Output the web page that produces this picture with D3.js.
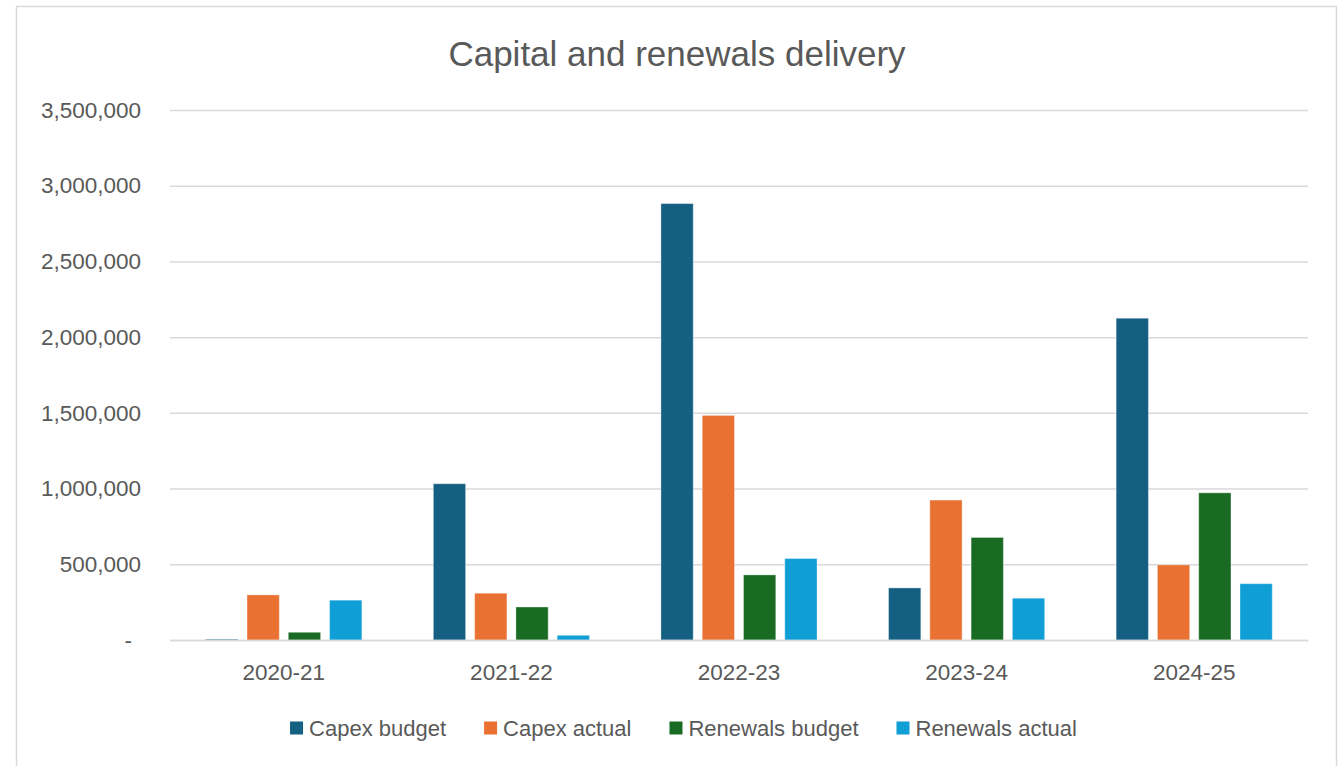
<!DOCTYPE html>
<html>
<head>
<meta charset="utf-8">
<script src="https://cdn.jsdelivr.net/npm/d3@7/dist/d3.min.js"></script>
<style>
  html, body { margin: 0; padding: 0; background: #ffffff; }
  svg { display: block; }
  text { font-family: "Liberation Sans", Arial, sans-serif; fill: #595959; }
</style>
</head>
<body>
<svg id="chart" width="1338" height="766"></svg>
<script>
// Financial years on the category axis
const years = ["2020-21", "2021-22", "2022-23", "2023-24", "2024-25"];

// Series values (dollars)
const capexBudget    = [5000, 1032000, 2882000, 344000, 2125000];
const capexActual    = [298000, 309000, 1483000, 924000, 496000];
const renewalsBudget = [51000, 218000, 430000, 677000, 972000];
const renewalsActual = [263000, 31000, 538000, 276000, 372000];

const seriesNames  = ["Capex budget", "Capex actual", "Renewals budget", "Renewals actual"];
const seriesValues = [capexBudget, capexActual, renewalsBudget, renewalsActual];
const seriesColors = ["#156082", "#E97132", "#196B24", "#0F9ED5"];

// Value axis ticks
const yTicks = [0, 500000, 1000000, 1500000, 2000000, 2500000, 3000000, 3500000];

const svg = d3.select("#chart");
const W = 1338, H = 766;
const plot = { left: 170, right: 1308, top: 110, bottom: 640 };

// chart area frame
svg.append("rect")
  .attr("x", 16.5).attr("y", 6.5)
  .attr("width", 1320).attr("height", 780)
  .attr("fill", "#ffffff")
  .attr("stroke", "#d9d9d9").attr("stroke-width", 1.5);

// title
svg.append("text")
  .attr("x", 677).attr("y", 66)
  .attr("text-anchor", "middle")
  .style("font-size", "35px")
  .text("Capital and renewals delivery");

const y = d3.scaleLinear().domain([0, 3500000]).range([plot.bottom, plot.top]);

const x0 = d3.scaleBand().domain(years).range([plot.left, plot.right]).paddingInner(0).paddingOuter(0);
const groupWidth = x0.bandwidth() * 0.686;
const x1 = d3.scaleBand().domain(seriesNames).range([0, groupWidth]).paddingInner(0.218).paddingOuter(0);
const groupOffset = (x0.bandwidth() - groupWidth) / 2;

// gridlines
const fmt = d3.format(",");
const yAxis = d3.axisLeft(y)
  .tickValues(yTicks)
  .tickSize(-(plot.right - plot.left))
  .tickPadding(29)
  .tickFormat(d => d === 0 ? "-" : fmt(d));

const gy = svg.append("g")
  .attr("transform", `translate(${plot.left},0)`)
  .call(yAxis);
gy.select(".domain").remove();
gy.selectAll(".tick line").attr("stroke", "#d9d9d9").attr("stroke-width", 1.5);
gy.selectAll(".tick text")
  .attr("fill", "#595959")
  .style("font-size", "22.5px")
  .style("font-family", "'Liberation Sans', Arial, sans-serif")
  .attr("dx", d => d === 0 ? -9 : 0);

// bars
const groups = svg.append("g").selectAll("g")
  .data(years)
  .join("g")
  .attr("transform", d => `translate(${x0(d) + groupOffset},0)`);

groups.selectAll("rect")
  .data((yr, i) => seriesNames.map((s, k) => ({ s, v: seriesValues[k][i], c: seriesColors[k] })))
  .join("rect")
  .attr("x", d => x1(d.s))
  .attr("width", x1.bandwidth())
  .attr("y", d => y(d.v))
  .attr("height", d => y(0) - y(d.v))
  .attr("fill", d => d.c)
  .attr("stroke", "#ffffff")
  .attr("stroke-opacity", 0.35)
  .attr("stroke-width", 1);

// category axis
const xAxis = d3.axisBottom(x0).tickSize(0).tickPadding(24);
const gx = svg.append("g")
  .attr("transform", `translate(0,${plot.bottom})`)
  .call(xAxis);
gx.select(".domain").attr("stroke", "#d9d9d9").attr("stroke-width", 1.5);
gx.selectAll(".tick text")
  .attr("fill", "#595959")
  .style("font-size", "22.5px")
  .style("font-family", "'Liberation Sans', Arial, sans-serif");

// legend
const legend = svg.append("g");
const sw = 13, gap = 6, itemGap = 38, legendY = 728;
const items = legend.selectAll("g")
  .data(seriesNames)
  .join("g");
items.append("rect")
  .attr("width", sw).attr("height", sw)
  .attr("y", legendY - sw / 2)
  .attr("fill", (d, i) => seriesColors[i]);
items.append("text")
  .attr("x", sw + gap)
  .attr("y", legendY)
  .attr("dy", "0.35em")
  .style("font-size", "22px")
  .text(d => d);

let offsets = [], cur = 0;
items.each(function () {
  const tw = d3.select(this).select("text").node().getComputedTextLength();
  offsets.push(cur);
  cur += sw + gap + tw + itemGap;
});
const total = cur - itemGap;
const startX = 683.5 - total / 2;
items.attr("transform", (d, i) => `translate(${startX + offsets[i]},0)`);
</script>
</body>
</html>
